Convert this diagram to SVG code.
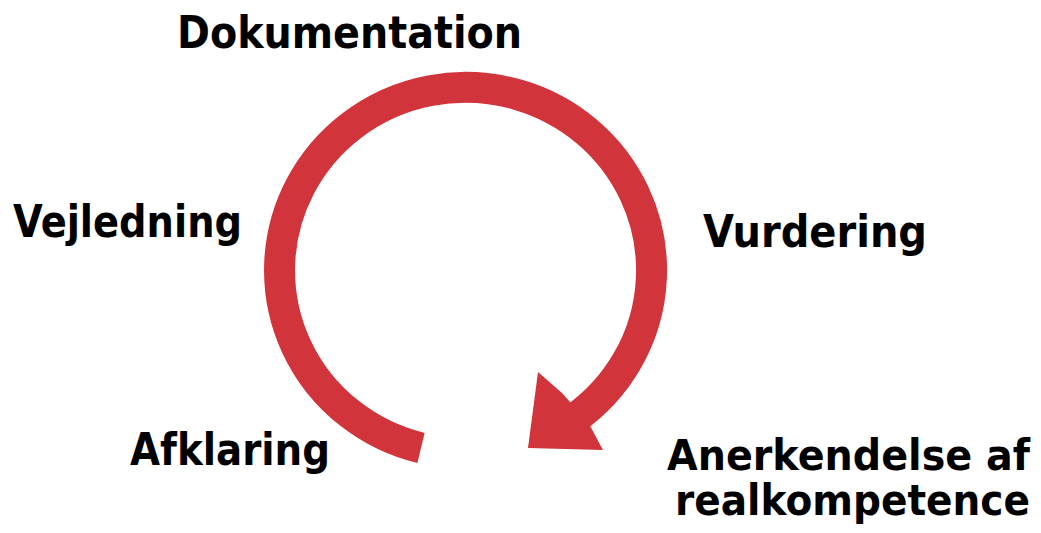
<svg xmlns="http://www.w3.org/2000/svg" width="1041" height="533" viewBox="0 0 1041 533">
  <style>
    .lbl { font-family: "DejaVu Sans", Verdana, sans-serif; font-weight: bold; font-size: 44px; fill: #000; }
    .lbl2 { font-size: 42px; }
    .arc { fill: none; stroke: #d1343a; stroke-width: 31; stroke-linecap: butt; }
    .head { fill: #d1343a; }
  </style>
  <rect width="1041" height="533" fill="#fff"/>
  <g id="connectors">
    <path class="arc" d="M 421 448 A 186 183 0 1 1 574 419"/>
    <polygon class="head" points="562,393 538,372 528,448 603,450 588,422"/>
  </g>
  <g id="node-dokumentation">
    <text class="lbl" x="177" y="48" textLength="345" lengthAdjust="spacingAndGlyphs">Dokumentation</text>
  </g>
  <g id="node-vejledning">
    <text class="lbl" x="13" y="237" textLength="229" lengthAdjust="spacingAndGlyphs">Vejledning</text>
  </g>
  <g id="node-vurdering">
    <text class="lbl" x="703" y="247" textLength="224" lengthAdjust="spacingAndGlyphs">Vurdering</text>
  </g>
  <g id="node-afklaring">
    <text class="lbl" x="130" y="465" textLength="200" lengthAdjust="spacingAndGlyphs">Afklaring</text>
  </g>
  <g id="node-anerkendelse">
    <text class="lbl lbl2" x="667" y="470" textLength="363" lengthAdjust="spacingAndGlyphs">Anerkendelse af</text>
    <text class="lbl lbl2" x="675" y="515" textLength="355" lengthAdjust="spacingAndGlyphs">realkompetence</text>
  </g>
</svg>
